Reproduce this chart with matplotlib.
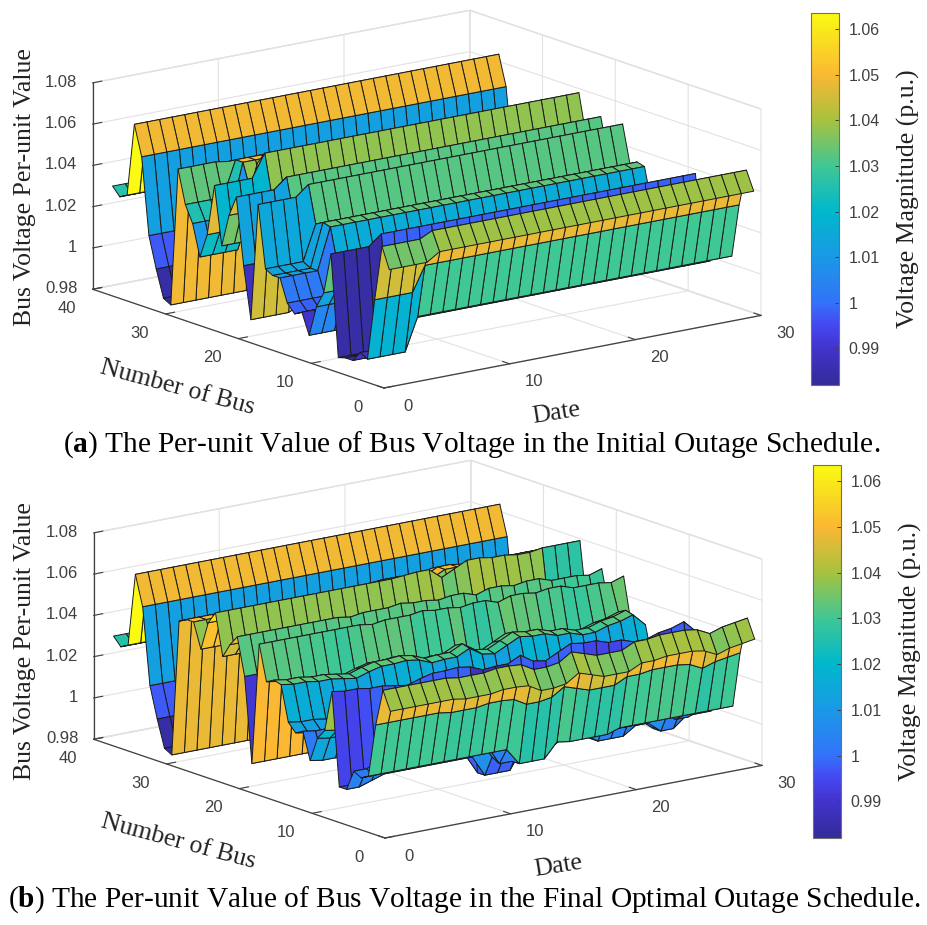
import numpy as np
import matplotlib
matplotlib.use('Agg')
import matplotlib.pyplot as plt
from matplotlib.colors import LinearSegmentedColormap, Normalize
from matplotlib.cm import ScalarMappable
from mpl_toolkits.mplot3d import proj3d

plt.rcParams['mathtext.fontset'] = 'custom'
plt.rcParams['mathtext.rm'] = 'Liberation Serif'
plt.rcParams['mathtext.bf'] = 'Liberation Serif:bold'

# ---------- data ----------
dates = list(range(1, 31))
buses = list(range(1, 40))
bus_steady = [1.039, 1.048, 1.030, 1.004, 1.006, 1.008, 0.998, 0.998, 1.038, 1.018,
              1.013, 1.001, 1.014, 1.012, 1.016, 1.033, 1.034, 1.032, 1.050, 0.991,
              1.032, 1.050, 1.045, 1.038, 1.058, 1.052, 1.038, 1.050, 1.050, 1.048,
              0.982, 0.984, 0.997, 1.012, 1.049, 1.0635, 1.028, 1.026, 1.030]
# panel (a): first four dates, outage in progress
bus_early_a = [1.035, 1.045, 1.018, 0.988, 0.990, 0.985, 0.985, 0.984, 1.033, 1.013,
               1.005, 0.990, 1.000, 0.998, 1.002, 1.013, 1.013, 1.015, 1.045, 0.988,
               1.013, 1.045, 1.035, 1.019, 1.047, 1.022, 1.010, 1.025, 1.033, 1.049,
               0.982, 0.984, 0.997, 1.012, 1.049, 1.0635, 1.028, 1.026, 1.030]
# panel (b): date-by-date departures from bus_steady, per group of buses
front_shift_b = [0, 0, 0, 0, 0, 0, -.001, -.001, -.001, 0, 0, -.0005, -.004, -.004, -.003,
                 .001, -.001, -.003, -.003, -.003, 0, 0, .001, .001, .001, 0, -.003, -.001, 0, .001]
bus4_shift_b = [0, 0, 0, 0, 0, 0, 0, 0, 0, 0, 0, 0, -.008, -.008, -.008,
                -.001, -.002, -.002, -.002, -.002, 0, 0, 0, 0, 0, 0, 0, 0, 0, 0]
low_shift_b = [-.004, -.004, -.002, 0, 0, 0, 0, 0, 0, 0, 0, -.010, -.010, -.010, 0,
               0, -.004, 0, 0, 0, -.004, -.004, -.004, 0, 0, -.005, -.005, 0, 0, 0]
mid_shift_b = [.001, 0, 0, -.001, -.001, -.002, -.003, -.001, .0005, .0005, .001, 0, -.0025, -.002, -.002,
               .001, -.003, -.004, -.001, .002, .001, .001, -.001, -.001, -.003, -.003, -.001, 0, .002, -.004]
ridge_shift_b = [0, 0, 0, 0, 0, 0, 0, 0, 0, -.001, 0, 0, 0, .001, 0,
                 0, -.001, 0, 0, -.002, 0, 0, -.001, 0, 0, -.002, -.002, -.002, -.003, -.001]
upper_shift_b = [0, 0, 0, 0, 0, 0, 0, 0, 0, 0, 0, 0, 0, 0, 0,
                 .0005, .001, .001, -.004, -.001, .002, .002, .001, .001, 0, 0, .001, .001, .001, .001]
bus24_late_b = [1.027, 1.027, 1.027, 1.027]

z_ticks = [0.98, 1.0, 1.02, 1.04, 1.06, 1.08]
z_labels = ['0.98', '1', '1.02', '1.04', '1.06', '1.08']
cbar_ticks = [0.99, 1.0, 1.01, 1.02, 1.03, 1.04, 1.05, 1.06]
cbar_labels = ['0.99', '1', '1.01', '1.02', '1.03', '1.04', '1.05', '1.06']
vmin, vmax = 0.982, 1.0635
cmap_values = [0.982, 0.99, 0.995, 1.0, 1.01, 1.02, 1.03, 1.04, 1.05, 1.0635]
cmap_colors = [(.20, .17, .60), (.26, .20, .80), (.27, .28, .95), (.20, .45, .98), (.10, .60, .90),
               (.00, .72, .80), (.25, .78, .58), (.65, .76, .25), (.98, .72, .20), (.98, .98, .07)]
cap_a = r'($\mathbf{a}$) The Per-unit Value of Bus Voltage in the Initial Outage Schedule.'
cap_b = r'($\mathbf{b}$) The Per-unit Value of Bus Voltage in the Final Optimal Outage Schedule.'

# ---------- matrices ----------
Za = np.tile(np.array(bus_steady)[:, None], (1, len(dates)))
Za[:, :4] = np.array(bus_early_a)[:, None]
Zb = np.tile(np.array(bus_steady)[:, None], (1, len(dates)))
groups = [(0, 3, front_shift_b), (3, 4, bus4_shift_b), (4, 8, low_shift_b), (8, 18, mid_shift_b),
          (18, 23, ridge_shift_b), (23, 30, upper_shift_b)]
for lo, hi, sh in groups:
    Zb[lo:hi, :] += np.array(sh)
Zb[23, 26:] = bus24_late_b

pos = [(v - vmin) / (vmax - vmin) for v in cmap_values]
parula = LinearSegmentedColormap.from_list('parula_like', list(zip(pos, cmap_colors)))
norm = Normalize(vmin, vmax)

W, H = 927, 925
fig = plt.figure(figsize=(W / 100, H / 100), dpi=100)
SERIF = 'Liberation Serif'
SANS = 'Liberation Sans'
TICK = '#404040'
LAB = '#222222'


def corner_px(ax, x, y, z):
    ax.apply_aspect()
    xs, ys, _ = proj3d.proj_transform(x, y, z, ax.get_proj())
    return ax.transData.transform((xs, ys))


def place(x, y, s, rot, size=18.5):
    fig.text(x / W, 1 - y / H, s, family=SERIF, fontsize=size, color=LAB, rotation=rot,
             rotation_mode='anchor', ha='center', va='center')


def panel(Z, origin, cbar_box, caption, cap_xy, zlab_xy, blab_xy, dlab_xy):
    ox, oy = origin
    side = 700
    ax = fig.add_axes([(ox - 350) / W, 1 - (oy - 120 + 350) / H, side / W, side / H], projection='3d', proj_type='ortho')
    ax.patch.set_alpha(0)
    ax.view_init(elev=14.8, azim=-127)
    ax.set_xlim(0, 30, view_margin=0)
    ax.set_ylim(0, 40, view_margin=0)
    ax.set_zlim(0.98, 1.08, view_margin=0)
    aspect = (471, 483, 213)
    ax.set_box_aspect(aspect, zoom=1.0)
    a = corner_px(ax, 0, 0, .98)
    b = corner_px(ax, 30, 0, .98)
    ax.set_box_aspect(aspect, zoom=377 / (b[0] - a[0]))
    a = corner_px(ax, 0, 0, .98)
    dx, dy = ox - a[0], (H - oy) - a[1]
    p = ax.get_position()
    ax.set_position([p.x0 + dx / W, p.y0 + dy / H, p.width, p.height])

    X, Y = np.meshgrid(dates, buses)
    ax.plot_surface(X, Y, Z, rstride=1, cstride=1, facecolors=parula(norm(Z)), shade=False,
                    edgecolor='#1a1a1a', linewidth=0.7, antialiased=True)
    ax.set_xticks([0, 10, 20, 30])
    ax.set_yticks([0, 10, 20, 30, 40])
    ax.set_zticks(z_ticks)
    ax.set_zticklabels(z_labels)
    for axis in (ax.xaxis, ax.yaxis, ax.zaxis):
        axis.set_pane_color((1, 1, 1, 1))
        axis.pane.set_edgecolor('#dddddd')
        axis.line.set_color('#404040')
        axis.line.set_linewidth(0.9)
        axis._axinfo['grid'].update(color='#e2e2e2', linewidth=0.8)
        axis._axinfo['tick'].update(inward_factor=0.0, outward_factor=0.3)
    ax.tick_params(colors=TICK, labelsize=12)
    for t in ax.get_xticklabels():
        t.set_fontfamily(SANS); t.set_va('bottom')
    for t in ax.get_yticklabels():
        t.set_fontfamily(SANS); t.set_va('center')
    for t in ax.get_zticklabels():
        t.set_fontfamily(SANS); t.set_ha('right'); t.set_va('center')
    ax.tick_params(axis='x', pad=14)
    ax.tick_params(axis='y', pad=10)
    ax.tick_params(axis='z', pad=-2)
    place(*zlab_xy, 'Bus Voltage Per-unit Value', 90)
    place(*blab_xy, 'Number of Bus', -15)
    place(*dlab_xy, 'Date', 9)

    l, t, r, bt = cbar_box
    cax = fig.add_axes([l / W, 1 - bt / H, (r - l) / W, (bt - t) / H])
    cb = fig.colorbar(ScalarMappable(norm=norm, cmap=parula), cax=cax, ticks=cbar_ticks)
    cb.set_ticklabels(cbar_labels)
    cb.ax.tick_params(direction='in', length=3, width=0.7, colors=TICK, labelsize=11.5, pad=7)
    for t_ in cb.ax.get_yticklabels():
        t_.set_fontfamily(SANS)
    cb.outline.set_edgecolor('#707070')
    cb.outline.set_linewidth(0.8)
    cb.set_label('Voltage Magnitude (p.u.)', family=SERIF, fontsize=18.5, color=LAB, labelpad=12)
    fig.text(cap_xy[0] / W, 1 - cap_xy[1] / H, caption, family=SERIF, fontsize=21.2, color='black', ha='center', va='center')


panel(Za, (384, 388), (811, 13, 839, 385), cap_a, (472, 445), (25, 187), (177, 388), (556, 413))
panel(Zb, (385, 838), (813, 465, 841, 838), cap_b, (464, 900), (25, 641), (178, 842), (558, 866))
fig.savefig('out.png', dpi=100)
